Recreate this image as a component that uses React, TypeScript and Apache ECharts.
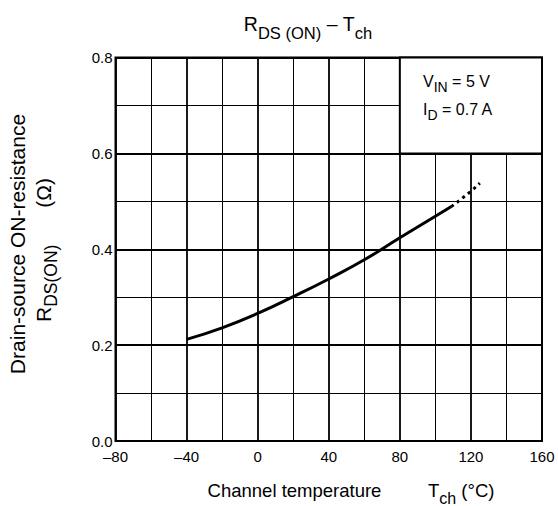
import React, { useEffect, useRef } from "react";
import * as echarts from "echarts";

// R_DS(ON) vs channel temperature (solid measured part, dotted extrapolation)
const solidCurve: [number, number][] = [
  [-40, 0.212], [-20, 0.236], [0, 0.266], [20, 0.301], [40, 0.338],
  [60, 0.378], [80, 0.424], [100, 0.469], [109, 0.489],
];
const dottedCurve: [number, number][] = [
  [109, 0.489], [120, 0.521], [125, 0.538],
];
const xTicks = [-80, -40, 0, 40, 80, 120, 160];
const yTicks = [0, 0.2, 0.4, 0.6, 0.8];
const conditionBox: [number, number][] = [[80, 0.6], [160, 0.8]];

const FONT = "'Liberation Sans', Arial, Helvetica, sans-serif";

export default function App() {
  const ref = useRef<HTMLDivElement>(null);
  useEffect(() => {
    if (!ref.current) return;
    const chart = echarts.init(ref.current, null, { renderer: "svg" });
    const mk = (size: number, sub: number, lh: number, drop: number) => ({
      m: { fontSize: size, fontFamily: FONT, color: "#000", lineHeight: lh },
      s: { fontSize: sub, fontFamily: FONT, color: "#000", lineHeight: lh, verticalAlign: "bottom", padding: [0, 0, -drop, 0] },
    });
    const titleRich = mk(19.5, 16.5, 26, 4);
    const axisRich = mk(18.5, 16, 24, 4);
    const yRich = mk(21, 17.5, 26, 4);
    const condRich = mk(16, 14, 20, 3);
    const option: any = {
      animation: false,
      backgroundColor: "#fff",
      grid: {
        left: 115.5, top: 57.5, right: 16, bottom: 65,
        show: true, borderColor: "#000", borderWidth: 2, backgroundColor: "transparent",
      },
      xAxis: {
        type: "value",
        min: xTicks[0], max: xTicks[xTicks.length - 1], interval: 40,
        axisLine: { show: false },
        axisTick: { show: false },
        axisLabel: {
          color: "#000", fontSize: 15, fontFamily: FONT, margin: 8,
          formatter: (v: number) => String(v).replace("-", "\u2013"),
        },
        splitLine: { show: true, lineStyle: { color: "#000", width: 1.8 } },
        minorTick: { show: false, splitNumber: 2 },
        minorSplitLine: { show: true, lineStyle: { color: "#000", width: 1 } },
      },
      yAxis: {
        type: "value",
        min: yTicks[0], max: yTicks[yTicks.length - 1], interval: 0.2,
        axisLine: { show: false },
        axisTick: { show: false },
        axisLabel: {
          color: "#000", fontSize: 15, fontFamily: FONT, margin: 3,
          formatter: (v: number) => v.toFixed(1),
        },
        splitLine: { show: true, lineStyle: { color: "#000", width: 1.8 } },
        minorTick: { show: false, splitNumber: 2 },
        minorSplitLine: { show: true, lineStyle: { color: "#000", width: 1 } },
      },
      series: [
        {
          type: "line",
          data: solidCurve,
          smooth: 0.5,
          showSymbol: false,
          lineStyle: { color: "#000", width: 3 },
          z: 5,
          markArea: {
            silent: true,
            itemStyle: { color: "#fff", borderColor: "#000", borderWidth: 2 },
            label: { show: false },
            data: [[{ coord: conditionBox[0] }, { coord: conditionBox[1] }]],
          },
        },
        {
          type: "line",
          data: dottedCurve,
          smooth: 0.5,
          showSymbol: false,
          lineStyle: { color: "#000", width: 3, type: [3, 4], cap: "butt" },
          z: 5,
        },
      ],
      graphic: [
        {
          type: "text",
          style: {
            text: "{m|R}{s|DS (ON)}{m| \u2013 T}{s|ch}",
            rich: titleRich,
            x: 308, y: 24, align: "center", verticalAlign: "middle",
          },
        },
        {
          type: "text", z: 20,
          style: {
            text: "{m|V}{s|IN}{m| = 5 V}",
            rich: condRich,
            x: 423, y: 81, align: "left", verticalAlign: "middle",
          },
        },
        {
          type: "text", z: 20,
          style: {
            text: "{m|I}{s|D}{m| = 0.7 A}",
            rich: condRich,
            x: 423, y: 109, align: "left", verticalAlign: "middle",
          },
        },
        {
          type: "text",
          x: 17, y: 244, rotation: Math.PI / 2,
          style: {
            text: "{m|Drain-source ON-resistance}",
            rich: yRich,
            align: "center", verticalAlign: "middle",
          },
        },
        {
          type: "text",
          x: 43, y: 322, rotation: Math.PI / 2,
          style: {
            text: "{m|R}{s|DS(ON)}",
            rich: yRich,
            align: "left", verticalAlign: "middle",
          },
        },
        {
          type: "text",
          x: 43, y: 178, rotation: Math.PI / 2,
          style: {
            text: "{m|(\u03a9)}",
            rich: yRich,
            align: "right", verticalAlign: "middle",
          },
        },
        {
          type: "text",
          x: 294.5, y: 490,
          style: {
            text: "{m|Channel temperature}",
            rich: axisRich,
            align: "center", verticalAlign: "middle",
          },
        },
        {
          type: "text",
          x: 428, y: 490,
          style: {
            text: "{m|T}{s|ch}{m| (\u00b0C)}",
            rich: axisRich,
            align: "left", verticalAlign: "middle",
          },
        },
      ],
    };
    chart.setOption(option);
    return () => chart.dispose();
  }, []);
  return (
    <div
      ref={ref}
      style={{ position: "absolute", left: 0, top: 0, width: 558, height: 506 }}
    />
  );
}
